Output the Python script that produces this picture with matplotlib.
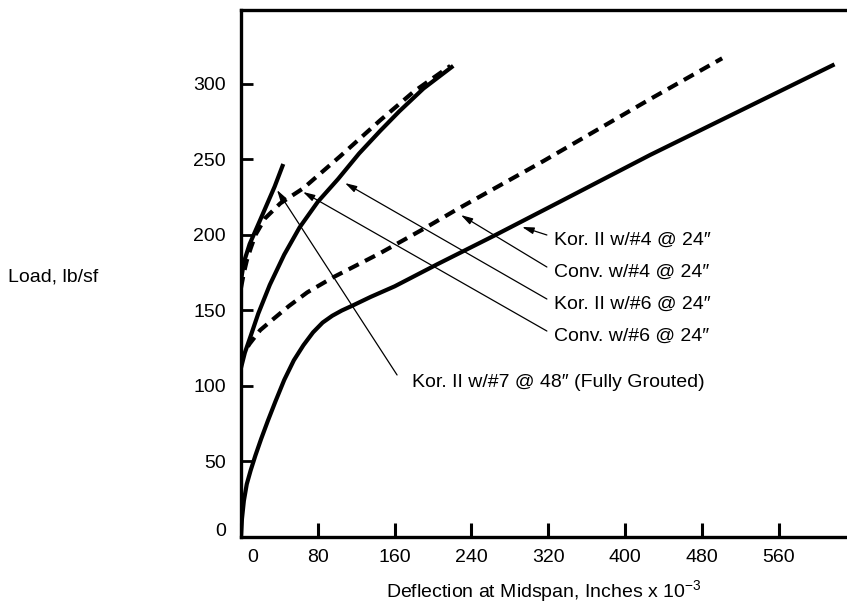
import matplotlib
matplotlib.use('Agg')
import matplotlib.pyplot as plt
import matplotlib.transforms as mtransforms

plt.rcParams['font.family'] = ['Liberation Sans', 'DejaVu Sans']
plt.rcParams['mathtext.default'] = 'regular'

# curves (deflection x 10^-3 in, load lb/sf)
kor4_x = [0, 1, 3, 6, 10, 15, 21, 28, 36, 45, 55, 65, 75, 85, 95, 105, 117, 135, 160,
          204, 265, 332, 426, 618]
kor4_y = [0, 12, 24, 35, 44, 54, 65, 77, 90, 104, 117, 127, 135.5, 142, 146.5, 150, 153.5,
          159, 166, 180.5, 200, 222, 253, 313]

conv4_x = [0, 3, 9, 20, 33, 50, 69, 96, 145, 190, 225, 315, 426, 501]
conv4_y = [115, 122, 128, 137, 144, 153, 162, 172, 188, 204, 217, 249, 290, 317]

kor6_x = [0, 4, 10, 18, 30, 45, 61, 80, 101, 123, 145, 165, 190, 221]
kor6_y = [112, 122, 133, 148, 167, 187, 205, 222, 237, 254, 269, 282, 297, 312]

conv6_x = [0, 3, 6, 10, 15, 25, 41, 65, 103, 145, 180, 218]
conv6_y = [165, 175, 183, 191, 200, 211, 221, 231, 252, 276, 295, 312]

kor7_x = [0, 3, 9, 20, 35, 44]
kor7_y = [170, 182, 194, 210, 232, 247]

x_ticks = [0, 80, 160, 240, 320, 400, 480, 560]
y_ticks = [0, 50, 100, 150, 200, 250, 300]

# callouts: label, text position, line start, arrow tip
labels = ['Kor. II w/#4 @ 24\u2033', 'Conv. w/#4 @ 24\u2033', 'Kor. II w/#6 @ 24\u2033',
          'Conv. w/#6 @ 24\u2033', 'Kor. II w/#7 @ 48\u2033 (Fully Grouted)']
text_x = [326, 326, 326, 326, 178]
text_y = [196.7, 175.5, 154.3, 133.1, 102.6]
start_x = [318.5, 318.5, 318.5, 318.5, 162.5]
start_y = [200, 178.8, 157.6, 136.4, 107.3]
tip_x = [292.7, 229, 108.3, 64.6, 37.5]
tip_y = [205.3, 213.2, 234.4, 228.5, 229.8]

fs = 14

fig = plt.figure(figsize=(8.47, 6.03), dpi=100)
ax = fig.add_axes([241 / 847, 1 - 537 / 603, 1 - 241 / 847, 527 / 603])

dash = (0, (2.7, 1.7))
ax.plot(kor4_x, kor4_y, color='black', lw=3, solid_capstyle='butt')
ax.plot(conv4_x, conv4_y, color='black', lw=3, linestyle=dash)
ax.plot(kor6_x, kor6_y, color='black', lw=3, solid_capstyle='butt')
ax.plot(conv6_x, conv6_y, color='black', lw=3, linestyle=dash)
ax.plot(kor7_x, kor7_y, color='black', lw=3, solid_capstyle='butt')

for i in range(len(labels)):
    ax.annotate('', xy=(tip_x[i], tip_y[i]), xytext=(start_x[i], start_y[i]),
                arrowprops=dict(arrowstyle='-|>,head_length=0.7,head_width=0.2',
                                lw=0.9, color='black', shrinkA=0, shrinkB=0))
    ax.text(text_x[i], text_y[i], labels[i], fontsize=fs, ha='left', va='center')

ax.set_xlim(0, 631)
ax.set_ylim(0, 349)
ax.set_xticks(x_ticks)
ax.set_yticks(y_ticks)
ax.tick_params(axis='x', direction='in', length=10, width=2.2, pad=9, labelsize=fs)
ax.tick_params(axis='y', direction='in', length=8.5, width=2, pad=11, labelsize=fs)

for side in ['left', 'top', 'bottom']:
    ax.spines[side].set_linewidth(2.4)
ax.spines['right'].set_visible(False)

# the two zero labels sit off the corner in the original
xt0 = ax.xaxis.get_major_ticks()[0]
xt0.label1.set_transform(xt0.label1.get_transform() +
                         mtransforms.ScaledTranslation(0.12, 0, fig.dpi_scale_trans))
yt0 = ax.yaxis.get_major_ticks()[0]
yt0.label1.set_transform(yt0.label1.get_transform() +
                         mtransforms.ScaledTranslation(0, 0.08, fig.dpi_scale_trans))

ax.set_xlabel('Deflection at Midspan, Inches x 10$^{-3}$', fontsize=fs)
ax.xaxis.set_label_coords(0.5, -0.078)
ax.xaxis.label.set_va('top')
ax.set_ylabel('Load, lb/sf', fontsize=fs, rotation=0, ha='left', va='center')
ax.yaxis.set_label_coords(-0.3845, 0.493)

fig.savefig('out.png', dpi=100)
